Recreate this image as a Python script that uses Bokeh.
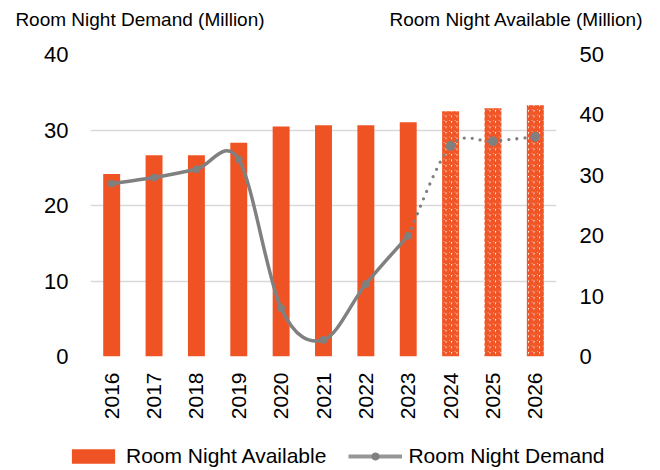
import math
from bokeh.plotting import figure
from bokeh.models import (Range1d, LinearAxis, FixedTicker, Legend,
                          LegendItem, ColumnDataSource)
from bokeh.embed import file_html
from bokeh.resources import INLINE

# ---------------- data ----------------
years = ["2016", "2017", "2018", "2019", "2020", "2021",
         "2022", "2023", "2024", "2025", "2026"]
available = [30.2, 33.3, 33.3, 35.4, 38.1, 38.3, 38.3, 38.8, 40.6, 41.1, 41.6]
demand = [22.9, 23.7, 24.8, 26.1, 6.4, 2.2, 9.6, 16.0, 27.9, 28.5, 29.1]
n_actual = 8  # 2016-2023 actual, 2024-2026 forecast

left_ticks = [0, 10, 20, 30, 40]
right_ticks = [0, 10, 20, 30, 40, 50]

left_title = "Room Night Demand (Million)"
right_title = "Room Night Available (Million)"
bar_label = "Room Night Available"
line_label = "Room Night Demand"

ORANGE = "#F05323"
GREY = "#808080"
FONT = "Liberation Sans"

xs = list(range(len(years)))

W, H = 656, 424
FL, FR, FT, FB = 90, 556, 54, 356   # frame edges in pixels

p = figure(width=W, height=H, output_backend="svg", toolbar_location=None,
           x_range=Range1d(-0.5, len(years) - 0.5), y_range=Range1d(0, 40),
           min_border_left=FL, min_border_right=W - FR, min_border_top=FT,
           min_border_bottom=H - FB)
p.extra_y_ranges = {"right": Range1d(0, 50)}
p.outline_line_color = None
p.xgrid.visible = False
p.ygrid.grid_line_color = "#D9D9D9"
p.ygrid.grid_line_width = 1.5
p.ygrid.ticker = FixedTicker(ticks=left_ticks)

def style_axis(ax, size, standoff):
    ax.axis_line_color = None
    ax.major_tick_line_color = None
    ax.minor_tick_line_color = None
    ax.major_tick_out = 0
    ax.major_tick_in = 0
    ax.major_label_text_font = FONT
    ax.major_label_text_font_size = size
    ax.major_label_text_color = "#000000"
    ax.major_label_standoff = standoff

yl = p.yaxis[0]
yl.ticker = FixedTicker(ticks=left_ticks)
style_axis(yl, "22px", 22)

yr = LinearAxis(y_range_name="right", ticker=FixedTicker(ticks=right_ticks))
style_axis(yr, "22px", 23)
p.add_layout(yr, "right")

xa = p.xaxis[0]
xa.ticker = FixedTicker(ticks=xs)
xa.major_label_overrides = {i: y for i, y in enumerate(years)}
xa.major_label_orientation = math.pi / 2
style_axis(xa, "21px", 16)

# axis titles: drawn as labels of an extra top axis (kept outside the frame)
span = len(years) / (FR - FL)          # data units per pixel
def px_to_x(px):
    return -0.5 + (px - FL) * span
t_left = px_to_x(139.5)
t_right = px_to_x(516)
ta = LinearAxis(ticker=FixedTicker(ticks=[t_left, t_right]),
                major_label_overrides={t_left: left_title, t_right: right_title})
style_axis(ta, "19px", 25)
p.add_layout(ta, "above")

# ---------------- bars ----------------
bar_style = dict(width=0.4, y_range_name="right")
act = ColumnDataSource(dict(x=xs[:n_actual], top=available[:n_actual]))
fc = ColumnDataSource(dict(x=xs[n_actual:], top=available[n_actual:]))
p.vbar(x="x", top="top", source=act, fill_color=ORANGE, line_color=None,
       **bar_style)
p.vbar(x="x", top="top", source=fc, fill_color="white", line_color=None,
       hatch_pattern="right_diagonal_line", hatch_color=ORANGE,
       hatch_scale=5.5, hatch_weight=2.4, **bar_style)

# ---------------- smoothed line (Catmull-Rom bezier) ----------------
def smooth(px, py):
    n = len(px)
    d = dict(x0=[], y0=[], x1=[], y1=[], cx0=[], cy0=[], cx1=[], cy1=[])
    for i in range(n - 1):
        ip = max(i - 1, 0)
        inn = min(i + 2, n - 1)
        d["x0"].append(px[i]); d["y0"].append(py[i])
        d["x1"].append(px[i + 1]); d["y1"].append(py[i + 1])
        d["cx0"].append(px[i] + (px[i + 1] - px[ip]) / 6)
        d["cy0"].append(py[i] + (py[i + 1] - py[ip]) / 6)
        d["cx1"].append(px[i + 1] - (px[inn] - px[i]) / 6)
        d["cy1"].append(py[i + 1] - (py[inn] - py[i]) / 6)
    return ColumnDataSource(d)

p.bezier(x0="x0", y0="y0", x1="x1", y1="y1", cx0="cx0", cy0="cy0",
         cx1="cx1", cy1="cy1", source=smooth(xs[:n_actual], demand[:n_actual]),
         line_color=GREY, line_width=3.5, line_cap="round")
p.bezier(x0="x0", y0="y0", x1="x1", y1="y1", cx0="cx0", cy0="cy0",
         cx1="cx1", cy1="cy1",
         source=smooth(xs[n_actual - 1:], demand[n_actual - 1:]),
         line_color=GREY, line_width=3.3, line_cap="round", line_dash="0 8")

p.scatter(xs[:n_actual], demand[:n_actual], size=7, fill_color=GREY,
          line_color=GREY)
p.scatter(xs[n_actual:], demand[n_actual:], size=9, fill_color=GREY,
          line_color=GREY)

# ---------------- legend strip (own small figure, series kept out of view) ----
LH = 44
lg = figure(width=W, height=LH, output_backend="svg", toolbar_location=None,
            x_range=Range1d(100, 101), y_range=Range1d(100, 101),
            x_axis_location=None, y_axis_location=None, min_border=0)
lg.grid.visible = False
lg.outline_line_color = None
lbar = lg.vbar(x=xs, top=available, width=0.4, fill_color=ORANGE,
               line_color=None)
lline = lg.line(xs, demand, line_color="#969696", line_width=4)
lpts = lg.scatter(xs, demand, size=7, fill_color=GREY, line_color=GREY)

legend = Legend(items=[LegendItem(label=bar_label, renderers=[lbar]),
                       LegendItem(label=line_label, renderers=[lline, lpts])],
                orientation="horizontal", location=(66, 0),
                border_line_color=None, background_fill_alpha=0,
                padding=0, margin=0, spacing=22, label_standoff=6,
                glyph_width=54, glyph_height=18, label_height=21,
                label_text_font=FONT, label_text_font_size="21px",
                label_text_color="#000000")
lg.add_layout(legend)

# two independent roots, stacked: chart, then legend strip
open("out.html", "w").write(file_html([p, lg], INLINE))
